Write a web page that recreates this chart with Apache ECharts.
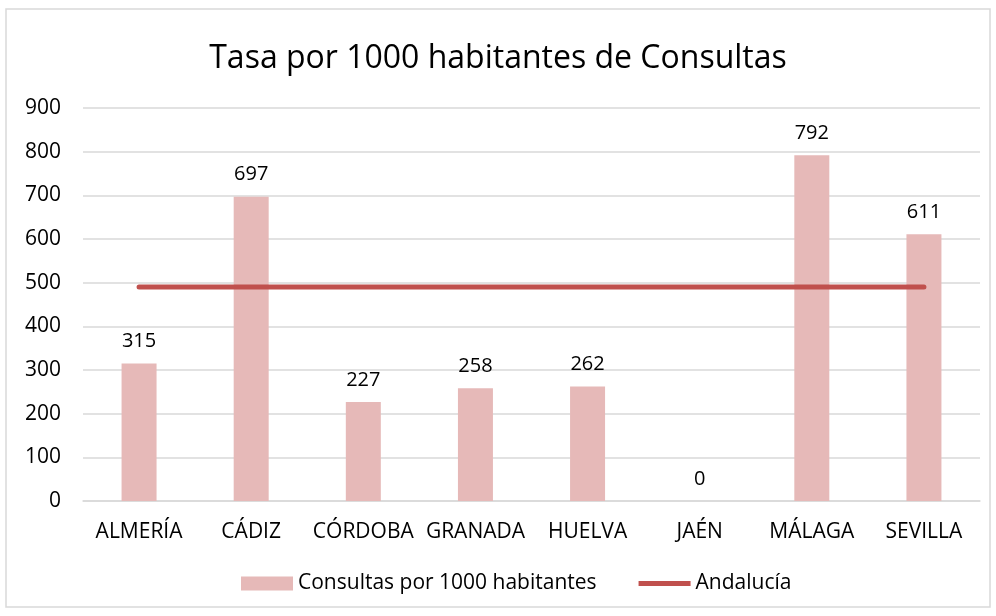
<!DOCTYPE html>
<html>
<head>
<meta charset="utf-8">
<script src="https://cdn.jsdelivr.net/npm/echarts@6/dist/echarts.min.js"></script>
<style>
html,body{margin:0;padding:0;background:#fff}
#main{width:996px;height:616px}
</style>
</head>
<body>
<div id="main"></div>
<script>
var provincias = ['ALMERÍA','CÁDIZ','CÓRDOBA','GRANADA','HUELVA','JAÉN','MÁLAGA','SEVILLA'];
var consultas = [315, 697, 227, 258, 262, 0, 792, 611];
var andalucia = [490, 490, 490, 490, 490, 490, 490, 490];
var yTicks = [0, 900, 100]; // min, max, interval

var fuente = '"Open Sans", "Noto Sans", sans-serif';
var myChart = echarts.init(document.getElementById('main'));

var option = {
    backgroundColor: '#fff',
    textStyle: {fontFamily: fuente},
    title: {
        text: 'Tasa por 1000 habitantes de Consultas',
        left: 'center',
        top: 38,
        textStyle: {fontFamily: fuente, fontSize: 32, fontWeight: 'normal', color: '#000'}
    },
    graphic: [{
        type: 'rect',
        shape: {x: 6, y: 9, width: 984, height: 598},
        style: {fill: 'none', stroke: '#d9d9d9', lineWidth: 1.5},
        silent: true
    }],
    grid: {left: 83, right: 16, top: 108, bottom: 115},
    legend: {
        bottom: 17,
        left: 236,
        itemGap: 42,
        itemWidth: 52,
        itemHeight: 14,
        textStyle: {fontFamily: fuente, fontSize: 21, color: '#000'},
        data: [
            {name: 'Consultas por 1000 habitantes', icon: 'rect'},
            {name: 'Andalucía', icon: 'path://M0,0L52,0L52,5L0,5Z'}
        ]
    },
    xAxis: {
        type: 'category',
        data: provincias,
        axisLine: {lineStyle: {color: '#d9d9d9', width: 1.5}},
        axisTick: {show: false},
        axisLabel: {fontFamily: fuente, fontSize: 21, color: '#000', margin: 21, interval: 0}
    },
    yAxis: {
        type: 'value',
        min: yTicks[0],
        max: yTicks[1],
        interval: yTicks[2],
        axisLine: {show: false},
        axisTick: {show: false},
        axisLabel: {fontFamily: fuente, fontSize: 21, color: '#000', margin: 22},
        splitLine: {lineStyle: {color: '#d9d9d9', width: 1.5}}
    },
    series: [{
        name: 'Consultas por 1000 habitantes',
        type: 'bar',
        data: consultas,
        barWidth: 35,
        itemStyle: {color: '#e6b9b8'},
        label: {show: true, position: 'top', distance: 12, fontFamily: fuente, fontSize: 20, color: '#000'}
    }, {
        name: 'Andalucía',
        type: 'line',
        data: andalucia,
        symbol: 'none',
        z: 5,
        lineStyle: {color: '#c0504d', width: 5, cap: 'round'},
        itemStyle: {color: '#c0504d'}
    }]
};
myChart.setOption(option);
</script>
</body>
</html>
